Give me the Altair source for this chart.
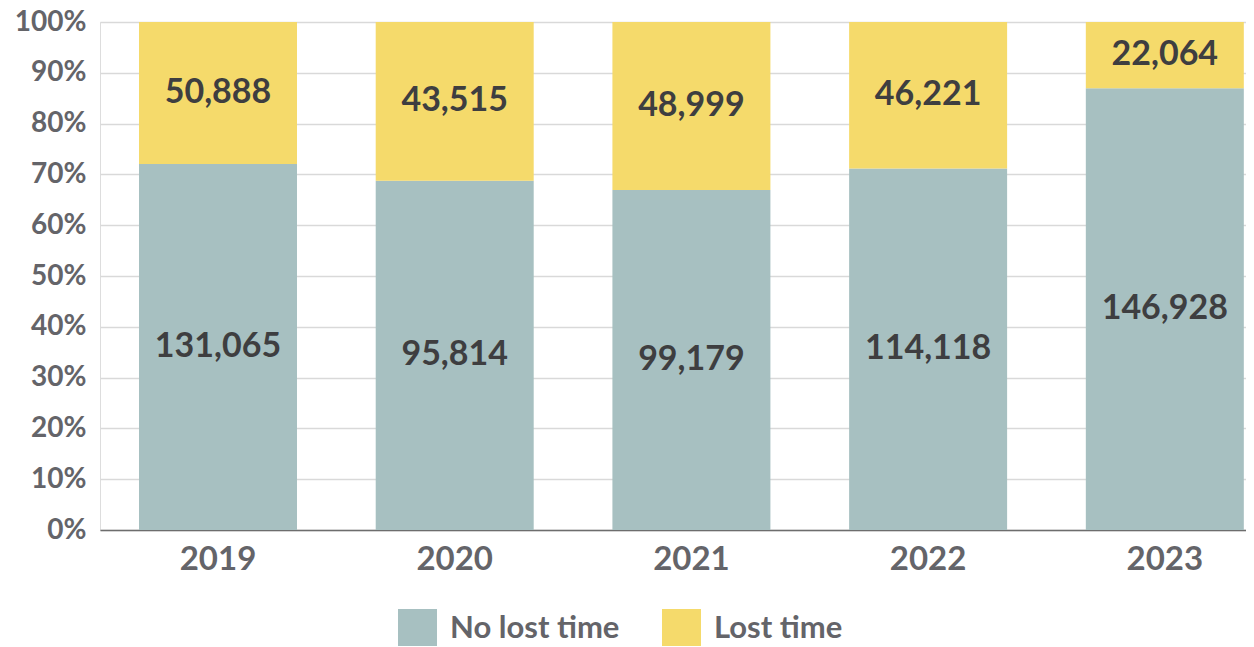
import altair as alt
import pandas as pd

years = ["2019", "2020", "2021", "2022", "2023"]
no_lost_time = [131065, 95814, 99179, 114118, 146928]
lost_time = [50888, 43515, 48999, 46221, 22064]
series = ["No lost time", "Lost time"]
colors = ["#A7C0C1", "#F5DA6B"]

rows = []
for i, y in enumerate(years):
    rows.append({"year": y, "series": series[0], "order": 0, "value": no_lost_time[i]})
    rows.append({"year": y, "series": series[1], "order": 1, "value": lost_time[i]})
df = pd.DataFrame(rows)

FONT = "Lato"
GRAY = "#646469"
W = "bold"

base = alt.Chart(df).transform_stack(
    stack="value",
    as_=["y0", "y1"],
    groupby=["year"],
    sort=[alt.SortField("order", order="ascending")],
    offset="normalize",
)

xenc = alt.X(
    "year:N",
    sort=years,
    title=None,
    scale=alt.Scale(paddingInner=0.3325, paddingOuter=0.087, align=0.947),
    axis=alt.Axis(
        labelAngle=0,
        labelFont=FONT,
        labelFontSize=33,
        labelFontWeight=W,
        labelColor=GRAY,
        labelPadding=13,
        ticks=False,
        domainColor="#6d6d6d",
        domainWidth=1.5,
        grid=False,
    ),
)

bars = base.mark_bar().encode(
    x=xenc,
    y=alt.Y(
        "y0:Q",
        title=None,
        scale=alt.Scale(domain=[0, 1], nice=False),
        axis=alt.Axis(
            format="%",
            values=[i / 10 for i in range(11)],
            labelFont=FONT,
            labelFontSize=28,
            labelFontWeight=W,
            labelColor=GRAY,
            labelPadding=14,
            ticks=False,
            domain=False,
            gridColor="#d9d9d9",
            gridWidth=1.5,
        ),
    ),
    y2="y1:Q",
    color=alt.Color(
        "series:N",
        scale=alt.Scale(domain=series, range=colors),
        sort=series,
        legend=alt.Legend(
            title=None,
            orient="none",
            legendX=298,
            legendY=587,
            direction="horizontal",
            symbolType="square",
            symbolSize=1521,
            symbolStrokeWidth=0,
            symbolOpacity=1,
            labelFont=FONT,
            labelFontSize=31,
            labelFontWeight=W,
            labelColor=GRAY,
            labelOffset=13,
            columnPadding=42,
            labelLimit=400,
        ),
    ),
    order=alt.Order("order:Q"),
)

labels = base.transform_calculate(
    mid="(datum.y0 + datum.y1) / 2"
).mark_text(
    font=FONT, fontSize=34, fontWeight=W, color="#3e3e40", baseline="middle"
).encode(
    x=alt.X("year:N", sort=years),
    y=alt.Y("mid:Q"),
    text=alt.Text("value:Q", format=",d"),
)

chart = (
    alt.layer(bars, labels)
    .properties(
        width=1146,
        height=508,
        autosize=alt.AutoSizeParams(type="none"),
        padding={"left": 92, "top": 14, "right": 0, "bottom": 116},
    )
    .configure_view(stroke=None)
    .configure(background="white")
)

chart.save("out.html", embed_options={"renderer": "svg", "actions": False})
